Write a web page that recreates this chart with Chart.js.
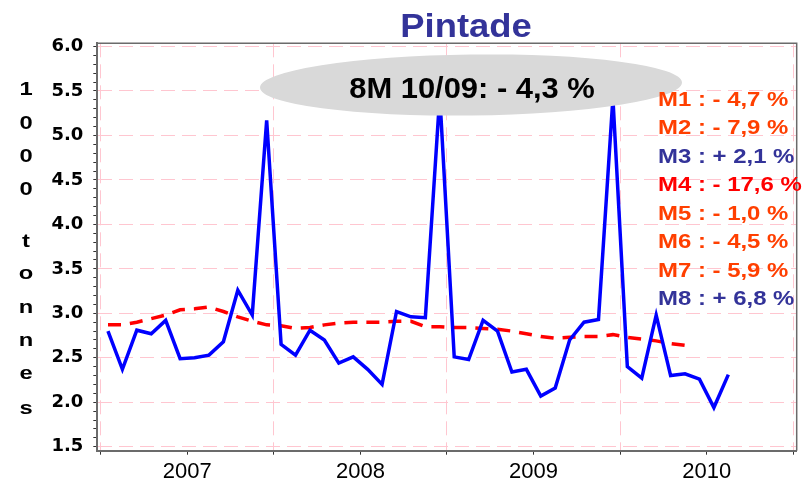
<!DOCTYPE html>
<html>
<head>
<meta charset="utf-8">
<script src="https://cdn.jsdelivr.net/npm/chart.js@4"></script>
<style>
  body { margin: 0; background: #fff; }
  #wrap { width: 806px; height: 486px; position: relative; }
</style>
</head>
<body>
<div id="wrap"><canvas id="myChart"></canvas></div>
<script>
// monthly volumes, 1000 tonnes, starting January 2007
const volumes = [2.80, 2.37, 2.81, 2.77, 2.92, 2.49, 2.50, 2.53, 2.68, 3.26, 2.98, 5.17,
                 2.65, 2.53, 2.81, 2.70, 2.44, 2.51, 2.37, 2.20, 3.02, 2.96, 2.95, 5.45,
                 2.51, 2.48, 2.92, 2.80, 2.34, 2.37, 2.07, 2.16, 2.70, 2.90, 2.93, 5.42,
                 2.40, 2.27, 2.98, 2.30, 2.32, 2.26, 1.94, 2.31];
// red dashed trend, same months
const trend = [2.87, 2.87, 2.90, 2.94, 2.98, 3.04, 3.05, 3.07, 3.02, 2.96, 2.91, 2.87,
               2.86, 2.83, 2.84, 2.87, 2.89, 2.90, 2.90, 2.90, 2.91, 2.91, 2.85, 2.85,
               2.84, 2.84, 2.83, 2.82, 2.80, 2.77, 2.74, 2.72, 2.73, 2.74, 2.74, 2.76,
               2.73, 2.71, 2.69, 2.66, 2.64];
const yearLabels = ['2007', '2008', '2009', '2010'];
const chartTitle = 'Pintade';
const axisLetters = ['1', '0', '0', '0', 't', 'o', 'n', 'n', 'e', 's'];
const bubbleText = '8M 10/09: - 4,3 %';
const monthNotes = ['M1 : - 4,7 %', 'M2 : - 7,9 %', 'M3 : + 2,1 %', 'M4 : - 17,6 %',
                    'M5 : - 1,0 %', 'M6 : - 4,5 %', 'M7 : - 5,9 %', 'M8 : + 6,8 %'];

const pink = '#ffc6d0';
const clear = 'rgba(0,0,0,0)';
const noteColors = ['#ff3f00', '#ff3f00', '#333399', '#ff0000', '#ff3f00', '#ff3f00', '#ff3f00', '#333399'];
const letterY = [95, 129, 162, 195, 247, 279, 313, 346, 379, 414];

const isMajor = v => Math.abs(v * 2 - Math.round(v * 2)) < 1e-6;

// draw text squeezed/stretched horizontally, like the original export
function wideText(ctx, text, x, y, sx, align) {
  ctx.save();
  ctx.translate(x, y);
  ctx.scale(sx, 1);
  ctx.textAlign = align;
  ctx.fillText(text, 0, 0);
  ctx.restore();
}

const decor = {
  id: 'decor',
  afterDatasetsDraw(chart) {
    const { ctx, chartArea: a } = chart;
    ctx.save();
    // top / right frame
    ctx.strokeStyle = '#6b6b6b';
    ctx.lineWidth = 1.5;
    ctx.beginPath();
    ctx.moveTo(a.left, a.top);
    ctx.lineTo(a.right, a.top);
    ctx.lineTo(a.right, a.bottom);
    ctx.stroke();

    // grey bubble
    ctx.fillStyle = '#d9d9d9';
    ctx.beginPath();
    ctx.ellipse(471, 85, 211, 30.5, -0.012, 0, Math.PI * 2);
    ctx.fill();
    ctx.fillStyle = '#000';
    ctx.font = 'bold 30px "Liberation Sans"';
    ctx.textBaseline = 'alphabetic';
    wideText(ctx, bubbleText, 472, 98, 1.03, 'center');

    // title
    ctx.fillStyle = '#333399';
    ctx.font = 'bold 34px "Liberation Sans"';
    wideText(ctx, chartTitle, 466, 37, 1.07, 'center');

    // vertical axis title
    ctx.fillStyle = '#000';
    ctx.font = 'bold 19px "Liberation Sans"';
    axisLetters.forEach((ch, i) => wideText(ctx, ch, 26, letterY[i], 1.25, 'center'));

    // monthly notes
    ctx.font = 'bold 21px "Liberation Sans"';
    monthNotes.forEach((t, i) => {
      ctx.fillStyle = noteColors[i];
      wideText(ctx, t, 658, 105.7 + 28.5 * i, 1.14, 'left');
    });
    ctx.restore();
  }
};

const data = {
  datasets: [{
    label: 'Volumes',
    data: volumes.map((v, i) => ({ x: i + 0.5, y: v })),
    borderColor: '#0000ff',
    borderWidth: 3.5,
    order: 0
  }, {
    label: 'Tendance',
    data: trend.map((v, i) => ({ x: i + 0.5, y: v })),
    borderColor: '#ff0000',
    borderWidth: 3.5,
    borderDash: [13, 9],
    order: 1
  }]
};

const config = {
  type: 'line',
  data,
  plugins: [decor],
  options: {
    responsive: true,
    maintainAspectRatio: false,
    animation: false,
    layout: { padding: { top: 43.3, right: 9.3, left: 0, bottom: 0 } },
    elements: { point: { radius: 0 }, line: { tension: 0 } },
    plugins: { legend: { display: false }, tooltip: { enabled: false } },
    scales: {
      x: {
        type: 'linear',
        min: -0.24,
        max: 48.24,
        afterFit: s => { s.height = 35.3; },
        ticks: {
          stepSize: 6,
          includeBounds: false,
          autoSkip: false,
          maxRotation: 0,
          padding: 4,
          color: '#000',
          font: { family: '"Liberation Sans"', size: 22 },
          callback: v => (v % 12 === 6 ? yearLabels[(v - 6) / 12] : '')
        },
        grid: {
          color: c => (c.tick && c.tick.value % 12 === 0 ? pink : clear),
          tickColor: '#333',
          tickLength: 4
        },
        border: { color: '#6b6b6b', width: 2, dash: [14, 7] }
      },
      y: {
        min: 1.455,
        max: 6.036,
        afterFit: s => { s.width = 97.3; },
        ticks: {
          stepSize: 0.1,
          includeBounds: false,
          autoSkip: false,
          padding: 10,
          color: '#000',
          font: { family: '"DejaVu Sans"', size: 18, weight: 'bold' },
          callback: v => (isMajor(v) ? v.toFixed(1) : '')
        },
        grid: {
          color: c => (c.tick && isMajor(c.tick.value) ? pink : clear),
          tickColor: '#333',
          tickLength: 4
        },
        border: { color: '#6b6b6b', width: 2, dash: [14, 7] }
      }
    }
  }
};

const myChart = new Chart(document.getElementById('myChart'), config);
</script>
</body>
</html>
